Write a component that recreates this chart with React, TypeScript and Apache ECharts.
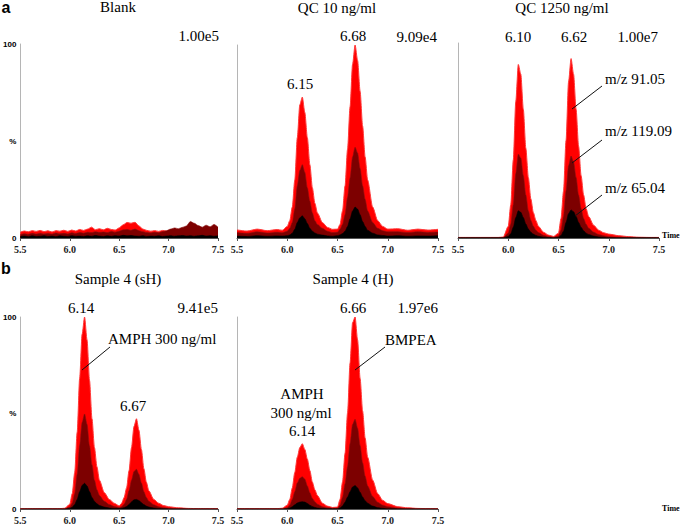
import React, { useEffect, useRef } from "react";
import * as echarts from "echarts";

// Shared retention-time grid (min) for the peak panels
const T = [5.5, 5.6, 5.7, 5.8, 5.9, 5.95, 6.0, 6.025, 6.05, 6.075, 6.1, 6.125, 6.15, 6.175, 6.2, 6.225, 6.25, 6.275, 6.3, 6.35, 6.4, 6.45, 6.5, 6.525, 6.55, 6.575, 6.6, 6.625, 6.65, 6.675, 6.7, 6.725, 6.75, 6.775, 6.8, 6.85, 6.9, 6.95, 7.0, 7.1, 7.2, 7.3, 7.4, 7.5];
// Retention-time grid for the Blank panel
const TB = [5.5, 5.54, 5.58, 5.62, 5.66, 5.7, 5.74, 5.78, 5.82, 5.86, 5.9, 5.94, 5.98, 6.02, 6.06, 6.1, 6.14, 6.18, 6.22, 6.26, 6.3, 6.34, 6.38, 6.42, 6.46, 6.5, 6.54, 6.58, 6.62, 6.66, 6.7, 6.74, 6.78, 6.82, 6.86, 6.9, 6.94, 6.98, 7.02, 7.06, 7.1, 7.14, 7.18, 7.22, 7.26, 7.3, 7.34, 7.38, 7.42, 7.46, 7.5];

const xTicks = ["5.5", "6.0", "6.5", "7.0", "7.5"];

// Blank (m/z 91.05 red, 119.09 dark red, 65.04 black), % of 1.00e5
const blank91 = [3.0, 3.6, 3.2, 3.8, 3.4, 3.9, 3.3, 3.7, 3.1, 3.8, 3.5, 4.0, 3.4, 4.1, 3.6, 4.4, 3.9, 4.6, 5.6, 4.3, 4.8, 4.2, 5.0, 4.4, 4.1, 5.2, 6.8, 8.0, 7.6, 8.1, 6.2, 4.6, 3.9, 3.5, 3.8, 3.4, 3.9, 3.6, 4.0, 4.3, 4.1, 4.6, 5.0, 6.5, 6.0, 5.0, 4.6, 5.2, 4.8, 5.5, 4.6];
const blank119 = [1.8, 2.2, 1.9, 2.4, 2.0, 2.5, 2.1, 2.3, 2.0, 2.6, 2.2, 2.4, 2.1, 2.7, 2.3, 2.8, 2.5, 3.0, 2.8, 3.2, 2.9, 3.1, 2.8, 3.4, 3.0, 3.5, 4.2, 4.4, 4.0, 4.6, 3.8, 3.2, 2.8, 2.6, 2.9, 2.7, 3.3, 3.8, 4.6, 5.2, 4.8, 5.5, 6.2, 8.5, 7.6, 6.4, 5.6, 6.6, 5.8, 7.0, 5.6];
const blank65 = [0.8, 1.0, 0.7, 1.1, 0.8, 0.9, 1.2, 0.8, 1.0, 0.7, 1.1, 0.9, 0.8, 1.2, 0.9, 1.0, 0.8, 1.1, 0.9, 1.3, 1.0, 0.8, 1.1, 0.9, 1.2, 1.0, 1.4, 1.1, 1.3, 1.0, 0.9, 1.2, 0.8, 1.0, 0.9, 1.1, 0.8, 1.0, 1.2, 0.9, 1.1, 1.3, 1.0, 1.2, 0.9, 1.1, 1.4, 1.0, 1.2, 0.9, 1.1];

// QC 10 ng/ml, % of 9.09e4
const qc10_91 = [4.2, 3.6, 4.6, 3.8, 4.4, 4.0, 6, 9, 16, 30, 52, 69, 73, 65, 52, 38, 26, 18, 13, 8, 5.5, 4.5, 4.6, 7, 14, 27, 46, 68, 90, 100, 92, 76, 58, 42, 30, 16, 9, 6, 4.6, 4.8, 4.0, 4.6, 4.1, 4.5];
const qc10_119 = [2.8, 2.4, 3.2, 2.6, 3.0, 2.7, 3.5, 5, 8, 15, 27, 35, 38, 34, 26, 19, 13, 9, 7, 5, 3.5, 2.8, 3.0, 4.5, 7, 12, 21, 31, 42, 47, 44, 36, 27, 20, 14, 8, 5, 3.8, 3.2, 3.3, 2.8, 3.2, 2.9, 3.1];
const qc10_65 = [1.0, 0.8, 1.2, 0.9, 1.1, 1.0, 1.2, 1.6, 2.5, 4.5, 8, 10.5, 11.5, 10, 7.5, 5, 3.5, 2.6, 2, 1.5, 1.1, 0.9, 1.2, 1.6, 2.3, 3.5, 6, 10, 14, 16, 15, 12, 8.5, 6, 4, 2.5, 1.6, 1.3, 1.0, 1.2, 0.9, 1.1, 1.0, 1.2];

// QC 1250 ng/ml, % of 1.00e7
const qc1250_91 = [0.3, 0.3, 0.3, 0.3, 0.3, 0.5, 6, 17, 40, 70, 89, 84, 66, 46, 31, 20, 13, 9, 6, 3, 1.5, 0.8, 2.5, 10, 24, 50, 80, 92, 84, 66, 47, 32, 22, 15, 11, 6.5, 4, 2.7, 2, 1.2, 0.7, 0.4, 0.3, 0.3];
const qc1250_119 = [0.2, 0.2, 0.2, 0.2, 0.2, 0.2, 2.5, 7, 17, 33, 43, 41, 32, 22, 14, 9, 6, 4, 2.8, 1.4, 0.7, 0.4, 1, 4, 11, 24, 37, 42, 39, 31, 22, 15, 10, 7, 5, 3, 1.8, 1.2, 0.7, 0.4, 0.3, 0.2, 0.2, 0.2];
const qc1250_65 = [0.1, 0.1, 0.1, 0.1, 0.1, 0.1, 0.8, 2.2, 5.5, 10.5, 14, 13.2, 10.5, 7.2, 4.6, 3, 2, 1.3, 0.9, 0.4, 0.2, 0.1, 0.3, 1.3, 3.5, 8, 12.5, 14.4, 13.5, 11, 8, 5.5, 3.7, 2.5, 1.8, 1, 0.5, 0.3, 0.15, 0.1, 0.1, 0.1, 0.1, 0.1];

// Sample 4 (sH), % of 9.41e5
const sh_91 = [0.2, 0.2, 0.2, 0.2, 0.2, 0.4, 2.5, 8, 19, 40, 68, 91, 100, 88, 67, 47, 32, 22, 15, 8.5, 5, 3, 1.6, 3, 6, 11, 20, 32, 43, 47, 41, 31, 21, 14, 9.5, 5, 3, 1.8, 1.2, 0.6, 0.3, 0.2, 0.2, 0.2];
const sh_119 = [0.1, 0.1, 0.1, 0.1, 0.1, 0.1, 1, 3, 8, 18, 33, 45, 49.5, 44, 33, 23, 15, 10, 7, 4, 2.3, 1.3, 0.8, 1.2, 2.5, 5, 9.5, 15, 19.5, 20.7, 18, 13.5, 9, 6, 4, 2.2, 1.2, 0.7, 0.4, 0.2, 0.1, 0.1, 0.1, 0.1];
const sh_65 = [0.05, 0.05, 0.05, 0.05, 0.05, 0.05, 0.3, 0.9, 2.3, 5, 9, 12.3, 13.4, 12, 9, 6, 4, 2.7, 1.8, 1, 0.5, 0.25, 0.2, 0.4, 0.7, 1.3, 2.4, 3.7, 4.8, 5, 4.4, 3.3, 2.3, 1.5, 1, 0.5, 0.25, 0.1, 0.05, 0.05, 0.05, 0.05, 0.05, 0.05];

// Sample 4 (H), % of 1.97e6
const h_91 = [0.2, 0.2, 0.2, 0.2, 0.2, 0.4, 2, 5, 11, 19, 27, 32, 34, 31, 26, 20, 14, 10, 7, 3, 1.5, 0.8, 1, 5, 14, 29, 50, 76, 97, 100, 88, 68, 51, 37, 27, 15, 8, 4.5, 2.8, 1.2, 0.6, 0.3, 0.2, 0.2];
const h_119 = [0.1, 0.1, 0.1, 0.1, 0.1, 0.1, 0.7, 2, 5, 9, 13.5, 16, 16.8, 15.5, 12, 8.5, 5.5, 3.8, 2.5, 1.2, 0.6, 0.4, 0.4, 2, 6, 13, 22, 34, 44, 46.7, 42, 33, 24, 17, 12, 6.5, 3.5, 2, 1.2, 0.5, 0.2, 0.1, 0.1, 0.1];
const h_65 = [0.05, 0.05, 0.05, 0.05, 0.05, 0.05, 0.15, 0.5, 1.2, 2.2, 3.1, 3.6, 3.8, 3.6, 2.9, 2, 1.3, 0.8, 0.5, 0.2, 0.1, 0.05, 0.1, 0.5, 1.6, 3.5, 6.2, 9, 11.5, 12.2, 11, 8.7, 6.2, 4.3, 3, 1.5, 0.7, 0.35, 0.1, 0.05, 0.05, 0.05, 0.05, 0.05];

const panels = [
  { t: TB, s: [blank91, blank119, blank65], left: 17, top: 44, height: 194, yLabels: true },
  { t: T, s: [qc10_91, qc10_119, qc10_65], left: 237, top: 45, height: 193, yLabels: false },
  { t: T, s: [qc1250_91, qc1250_119, qc1250_65], left: 458, top: 43, height: 195, yLabels: false },
  { t: T, s: [sh_91, sh_119, sh_65], left: 17, top: 317, height: 192, yLabels: true },
  { t: T, s: [h_91, h_119, h_65], left: 237, top: 317, height: 192, yLabels: false },
];

const traceColors = ["#ff0000", "#7d0000", "#000000"];
const edgeColors = ["#ff3a3a", "#8a1010", "#000000"];

const SERIF = '"Liberation Serif", "Times New Roman", serif';
const SANS = '"Liberation Sans", Arial, sans-serif';

function txt(x: number, y: number, text: string, align = "center", size = 15, extra: any = {}) {
  return {
    type: "text",
    x,
    y,
    z: 100,
    style: {
      text,
      fontSize: size,
      fontFamily: SERIF,
      fill: "#000",
      align,
      verticalAlign: "middle",
      ...extra,
    },
  };
}

function seg(x1: number, y1: number, x2: number, y2: number) {
  return {
    type: "line",
    z: 100,
    shape: { x1, y1, x2, y2 },
    style: { stroke: "#111", lineWidth: 1 },
  };
}

export default function App() {
  const ref = useRef<HTMLDivElement>(null);
  useEffect(() => {
    if (!ref.current) return;
    const chart = echarts.init(ref.current, null, { renderer: "svg" });

    const grid = panels.map((p) => ({ left: p.left, top: p.top, width: 201, height: p.height, containLabel: false }));
    const xAxis = panels.map((p, i) => ({
      type: "value",
      gridIndex: i,
      min: 5.5,
      max: 7.5,
      interval: 0.5,
      axisLine: { show: true, lineStyle: { color: "#555", width: 1 } },
      axisTick: { show: true, length: 3, lineStyle: { color: "#555" } },
      splitLine: { show: false },
      axisLabel: {
        margin: 6,
        fontSize: 10,
        fontWeight: "bold",
        fontFamily: SERIF,
        color: "#222",
        formatter: (v: number) => xTicks.find((s) => Math.abs(parseFloat(s) - v) < 1e-6) || "",
      },
    }));
    const yAxis = panels.map((p, i) => ({
      type: "value",
      gridIndex: i,
      min: 0,
      max: 100,
      interval: 50,
      axisLine: { show: true, lineStyle: { color: "#b5b5b5", width: 1 } },
      axisTick: { show: false },
      splitLine: { show: false },
      axisLabel: {
        show: p.yLabels,
        margin: 4,
        fontSize: 8,
        fontWeight: "bold",
        fontFamily: SANS,
        color: "#000",
        formatter: (v: number) => (v === 50 ? "%" : String(v)),
      },
    }));

    const series: any[] = [];
    panels.forEach((p, gi) => {
      p.s.forEach((arr, k) => {
        series.push({
          type: "line",
          xAxisIndex: gi,
          yAxisIndex: gi,
          data: p.t.map((t, j) => [t, arr[j]]),
          showSymbol: false,
          smooth: 0.25,
          smoothMonotone: "x",
          lineStyle: { color: edgeColors[k], width: k === 0 ? 1 : 0.6 },
          areaStyle: { color: traceColors[k], opacity: 1 },
          z: 2 + k,
          silent: true,
        });
      });
    });

    const graphic = [
      txt(6, 7, "a", "center", 16, { fontFamily: SANS, fontWeight: "bold" }),
      txt(118, 7, "Blank"),
      txt(337, 8, "QC 10 ng/ml"),
      txt(562, 8, "QC 1250 ng/ml"),
      txt(219, 36, "1.00e5", "right"),
      txt(300, 84, "6.15"),
      txt(353, 36, "6.68"),
      txt(437, 37, "9.09e4", "right"),
      txt(518, 37, "6.10"),
      txt(574, 37, "6.62"),
      txt(658, 37, "1.00e7", "right"),
      txt(605, 79, "m/z 91.05", "left"),
      txt(605, 131, "m/z 119.09", "left"),
      txt(605, 188, "m/z 65.04", "left"),
      seg(602, 86, 572, 109),
      seg(602, 140, 572, 163),
      seg(602, 195, 575, 216),
      txt(662, 235, "Time", "left", 8, { fontWeight: "bold" }),
      txt(6, 268, "b", "center", 16, { fontFamily: SANS, fontWeight: "bold" }),
      txt(118, 279, "Sample 4 (sH)"),
      txt(81, 308, "6.14"),
      txt(218, 308, "9.41e5", "right"),
      txt(108, 339, "AMPH 300 ng/ml", "left"),
      seg(110, 347, 82, 370),
      txt(133, 406, "6.67"),
      txt(353, 279, "Sample 4 (H)"),
      txt(353, 308, "6.66"),
      txt(438, 308, "1.97e6", "right"),
      txt(385, 340, "BMPEA", "left"),
      seg(385, 347, 355, 370),
      txt(302, 394, "AMPH"),
      txt(301, 413, "300 ng/ml"),
      txt(302, 431, "6.14"),
      txt(662, 508, "Time", "left", 8, { fontWeight: "bold" }),
    ];

    chart.setOption({
      animation: false,
      backgroundColor: "#ffffff",
      grid,
      xAxis,
      yAxis,
      series,
      graphic,
    });
    return () => chart.dispose();
  }, []);

  return (
    <div
      ref={ref}
      style={{ position: "fixed", left: 0, top: 0, width: 685, height: 526, background: "#fff" }}
    />
  );
}
